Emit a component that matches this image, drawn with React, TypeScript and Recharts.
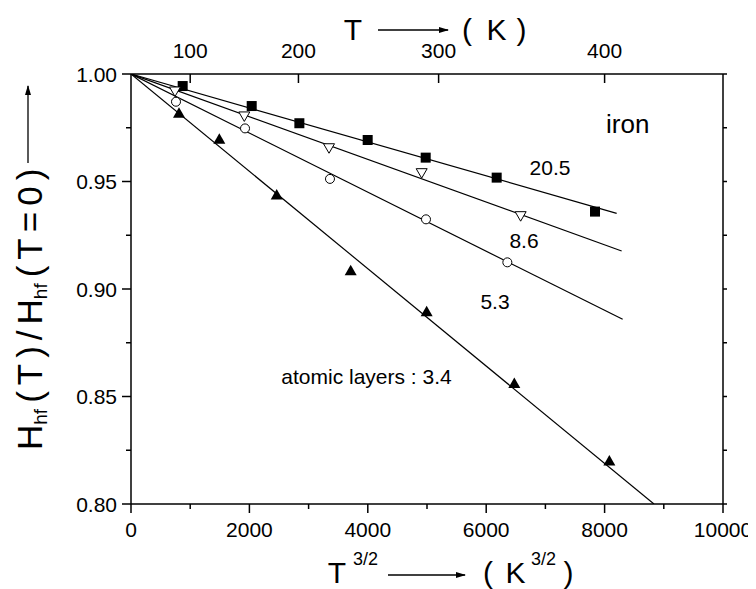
import React from 'react';
import { ComposedChart, Scatter, XAxis, YAxis } from 'recharts';

// Hyperfine field ratio H_hf(T)/H_hf(0) against T^(3/2) for iron films
// of different thickness (atomic layers).
const layers205X = [873, 2039, 2844, 3998, 4978, 6177, 7838];
const layers205Y = [0.9944, 0.9851, 0.9771, 0.9693, 0.9611, 0.9518, 0.936];
const layers86X = [743, 1914, 3345, 4910, 6582];
const layers86Y = [0.9921, 0.9805, 0.9657, 0.9541, 0.9341];
const layers53X = [760, 1926, 3361, 4983, 6357];
const layers53Y = [0.9871, 0.9747, 0.9512, 0.9324, 0.9124];
const layers34X = [811, 1492, 2461, 3711, 4994, 6475, 8080];
const layers34Y = [0.9817, 0.9696, 0.9437, 0.9085, 0.8894, 0.8561, 0.82];

// straight T^(3/2) fits, start and end points
const fit205X = [0, 8204];
const fit205Y = [1, 0.9352];
const fit86X = [0, 8288];
const fit86Y = [1, 0.9177];
const fit53X = [0, 8305];
const fit53Y = [1, 0.8859];
const fit34X = [0, 8834];
const fit34Y = [1, 0.8];

// in-plot text
const noteText = ['iron', '20.5', '8.6', '5.3', 'atomic layers : 3.4'];
const noteX = [8390, 7078, 6639, 6149, 3978];
const noteY = [0.9771, 0.9564, 0.9228, 0.8941, 0.8595];
const noteSize = [26, 21, 21, 21, 21];

// axes
const bottomTicks = [0, 1000, 2000, 3000, 4000, 5000, 6000, 7000, 8000, 9000, 10000];
const topTickT = [100, 200, 300, 400];
const yTicks = [0.8, 0.825, 0.85, 0.875, 0.9, 0.925, 0.95, 0.975, 1.0];

const FONT = '"Liberation Sans", Arial, Helvetica, sans-serif';
const INK = '#000';
const W = 748;
const H = 581;
const TITLE = 30;
const SUP = 18;

const pts = (xs: number[], ys: number[]) => xs.map((x, i) => ({ x, y: ys[i] }));
const notes = noteText.map((label, i) => ({ x: noteX[i], y: noteY[i], label, size: noteSize[i] }));

const Square = (p: any) => (
  <rect x={p.cx - 5} y={p.cy - 5} width={10} height={10} fill={INK} />
);
const TriDown = (p: any) => (
  <polygon
    points={`${p.cx - 5.5},${p.cy - 4} ${p.cx + 5.5},${p.cy - 4} ${p.cx},${p.cy + 5.5}`}
    fill="#fff"
    stroke={INK}
    strokeWidth={1}
  />
);
const Ring = (p: any) => <circle cx={p.cx} cy={p.cy} r={4.5} fill="#fff" stroke={INK} strokeWidth={1} />;
const TriUp = (p: any) => (
  <polygon
    points={`${p.cx - 6},${p.cy + 4.5} ${p.cx + 6},${p.cy + 4.5} ${p.cx},${p.cy - 6}`}
    fill={INK}
  />
);
const NoMark = () => <g />;
const Note = (p: any) => (
  <text
    x={p.cx}
    y={p.cy + p.payload.size * 0.36}
    textAnchor="middle"
    fontFamily={FONT}
    fontSize={p.payload.size}
    fill={INK}
  >
    {p.payload.label}
  </text>
);

const BottomTick = (p: any) => {
  const v = p.payload.value;
  const major = v % 2000 === 0;
  return (
    <g>
      <line x1={p.x} x2={p.x} y1={p.y} y2={p.y + (major ? 9 : 5)} stroke={INK} strokeWidth={1.5} />
      {major && (
        <text x={p.x} y={p.y + 33} textAnchor="middle" fontFamily={FONT} fontSize={21} fill={INK}>
          {v}
        </text>
      )}
    </g>
  );
};

const TopTick = (p: any) => {
  const t = Math.round(Math.pow(p.payload.value, 2 / 3));
  return (
    <g>
      <line x1={p.x} x2={p.x} y1={p.y} y2={p.y + 9} stroke={INK} strokeWidth={1.5} />
      <text x={p.x} y={p.y - 16} textAnchor="middle" fontFamily={FONT} fontSize={21} fill={INK}>
        {t}
      </text>
    </g>
  );
};

const LeftTick = (p: any) => {
  const v = p.payload.value;
  const major = Math.abs(Math.round(v * 20) - v * 20) < 1e-6;
  return (
    <g>
      <line x1={p.x} x2={p.x - (major ? 9 : 5)} y1={p.y} y2={p.y} stroke={INK} strokeWidth={1.5} />
      {major && (
        <text x={p.x - 14} y={p.y + 7.5} textAnchor="end" fontFamily={FONT} fontSize={21} fill={INK}>
          {v.toFixed(2)}
        </text>
      )}
    </g>
  );
};

const RightTick = (p: any) => (
  <line x1={p.x} x2={p.x + 4} y1={p.y} y2={p.y} stroke={INK} strokeWidth={1.5} />
);

const axisLine = { stroke: INK, strokeWidth: 1.5 };

const T = (props: any) => (
  <text fontFamily={FONT} fontSize={TITLE} fill={INK} textAnchor="middle" {...props} />
);

const GAP = 6;

const Titles = () => (
  <svg
    width={W}
    height={H}
    style={{ position: 'absolute', left: 0, top: 0, pointerEvents: 'none', overflow: 'visible' }}
  >
    <defs>
      <marker id="head" markerWidth="10" markerHeight="8" refX="9" refY="4" orient="auto" markerUnits="userSpaceOnUse">
        <path d="M0,1 L10,4 L0,7 Z" fill={INK} />
      </marker>
    </defs>

    {/* top axis: T in K */}
    <T x={345} y={32}>T</T>
    <line x1={370} x2={440} y1={22} y2={22} stroke={INK} strokeWidth={1.3} markerEnd="url(#head)" />
    <T x={459} y={32}>(</T>
    <T x={488.5} y={32}>K</T>
    <T x={513.5} y={32}>)</T>

    {/* bottom axis: T^(3/2) */}
    <T x={329} y={575}>T</T>
    <text x={345} y={557} fontFamily={FONT} fontSize={SUP} fill={INK}>3/2</text>
    <line x1={380} x2={457} y1={567} y2={567} stroke={INK} strokeWidth={1.3} markerEnd="url(#head)" />
    <T x={480} y={575}>(</T>
    <T x={507.5} y={575}>K</T>
    <text x={523} y={557} fontFamily={FONT} fontSize={SUP} fill={INK}>3/2</text>
    <T x={560.5} y={575}>)</T>

    {/* left axis: reduced hyperfine field */}
    <g transform="translate(34,440) rotate(-90)">
      <text x={-2} y={0} fontFamily={FONT} fontSize={35} fill={INK}>
        H
        <tspan dy={5} fontSize={19}>hf</tspan>
        <tspan dy={-5} dx={GAP}>(</tspan>
        <tspan dx={GAP}>T</tspan>
        <tspan dx={GAP}>)</tspan>
        <tspan dx={GAP}>/</tspan>
        <tspan dx={GAP}>H</tspan>
        <tspan dy={5} fontSize={19}>hf</tspan>
        <tspan dy={-5} dx={GAP}>(</tspan>
        <tspan dx={GAP}>T</tspan>
        <tspan dx={GAP}>=</tspan>
        <tspan dx={GAP}>0</tspan>
        <tspan dx={GAP}>)</tspan>
      </text>
    </g>
    <line x1={20} x2={20} y1={155} y2={78} stroke={INK} strokeWidth={1.3} markerEnd="url(#head)" />
  </svg>
);

export default function App() {
  return (
    <div style={{ position: 'relative', width: W, height: H }}>
      <ComposedChart width={W} height={H} margin={{ top: 26, right: 23, bottom: 45, left: 63 }}>
        <XAxis
          xAxisId="bottom"
          type="number"
          dataKey="x"
          domain={[0, 10000]}
          allowDataOverflow
          ticks={bottomTicks}
          interval={0}
          height={40}
          tickSize={0}
          tickMargin={0}
          tickLine={false}
          axisLine={axisLine}
          tick={<BottomTick />}
        />
        <XAxis
          xAxisId="top"
          orientation="top"
          type="number"
          dataKey="x"
          domain={[0, 10000]}
          allowDataOverflow
          ticks={topTickT.map((t) => Math.pow(t, 1.5))}
          interval={0}
          height={40}
          tickSize={0}
          tickMargin={0}
          tickLine={false}
          axisLine={axisLine}
          tick={<TopTick />}
        />
        <YAxis
          yAxisId="left"
          type="number"
          dataKey="y"
          domain={[0.8, 1]}
          allowDataOverflow
          ticks={yTicks}
          interval={0}
          width={60}
          tickSize={0}
          tickMargin={0}
          tickLine={false}
          axisLine={axisLine}
          tick={<LeftTick />}
        />
        <YAxis
          yAxisId="right"
          orientation="right"
          type="number"
          dataKey="y"
          domain={[0.8, 1]}
          allowDataOverflow
          ticks={yTicks}
          interval={0}
          width={10}
          tickSize={0}
          tickMargin={0}
          tickLine={false}
          axisLine={axisLine}
          tick={<RightTick />}
        />

        <Scatter xAxisId="top" yAxisId="right" data={pts(fit205X, fit205Y)} line={{ stroke: INK, strokeWidth: 1.2 }} shape={<NoMark />} isAnimationActive={false} />
        <Scatter xAxisId="top" yAxisId="right" data={pts(fit86X, fit86Y)} line={{ stroke: INK, strokeWidth: 1.2 }} shape={<NoMark />} isAnimationActive={false} />
        <Scatter xAxisId="top" yAxisId="right" data={pts(fit53X, fit53Y)} line={{ stroke: INK, strokeWidth: 1.2 }} shape={<NoMark />} isAnimationActive={false} />
        <Scatter xAxisId="top" yAxisId="right" data={pts(fit34X, fit34Y)} line={{ stroke: INK, strokeWidth: 1.2 }} shape={<NoMark />} isAnimationActive={false} />

        <Scatter xAxisId="bottom" yAxisId="left" data={pts(layers205X, layers205Y)} shape={<Square />} isAnimationActive={false} />
        <Scatter xAxisId="bottom" yAxisId="left" data={pts(layers86X, layers86Y)} shape={<TriDown />} isAnimationActive={false} />
        <Scatter xAxisId="bottom" yAxisId="left" data={pts(layers53X, layers53Y)} shape={<Ring />} isAnimationActive={false} />
        <Scatter xAxisId="bottom" yAxisId="left" data={pts(layers34X, layers34Y)} shape={<TriUp />} isAnimationActive={false} />

        <Scatter xAxisId="bottom" yAxisId="left" data={notes} shape={<Note />} isAnimationActive={false} />
      </ComposedChart>
      <Titles />
    </div>
  );
}
